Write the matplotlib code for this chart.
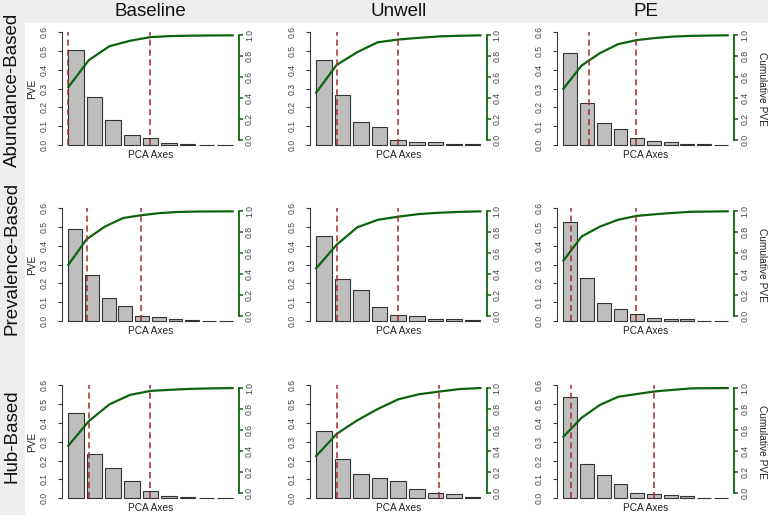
import numpy as np
import matplotlib
matplotlib.use("Agg")
import matplotlib.pyplot as plt
from matplotlib.patches import Rectangle
from matplotlib import transforms

plt.rcParams['font.family'] = ['Liberation Sans', 'DejaVu Sans']

# ---------------- data ----------------
row_labels = ["Abundance-Based", "Prevalence-Based", "Hub-Based"]
col_labels = ["Baseline", "Unwell", "PE"]

pve_abundance_baseline = [0.505, 0.258, 0.133, 0.052, 0.035, 0.010, 0.004, 0.002, 0.001]
pve_abundance_unwell = [0.452, 0.265, 0.122, 0.095, 0.026, 0.016, 0.014, 0.006, 0.004]
pve_abundance_pe = [0.490, 0.222, 0.118, 0.086, 0.038, 0.020, 0.014, 0.007, 0.003, 0.002]

pve_prevalence_baseline = [0.488, 0.245, 0.121, 0.082, 0.027, 0.020, 0.011, 0.004, 0.001, 0.001]
pve_prevalence_unwell = [0.455, 0.226, 0.166, 0.072, 0.030, 0.025, 0.013, 0.008, 0.005]
pve_prevalence_pe = [0.529, 0.231, 0.094, 0.066, 0.036, 0.016, 0.013, 0.011, 0.002, 0.002]

pve_hub_baseline = [0.452, 0.234, 0.159, 0.090, 0.038, 0.011, 0.009, 0.004, 0.003]
pve_hub_unwell = [0.354, 0.210, 0.129, 0.108, 0.092, 0.048, 0.026, 0.024, 0.009]
pve_hub_pe = [0.538, 0.180, 0.122, 0.077, 0.026, 0.025, 0.015, 0.014, 0.002, 0.001]

# cut-off markers (in PCA axis index units)
cuts_abundance_baseline = [1.0, 5.0]
cuts_abundance_unwell = [2.0, 5.0]
cuts_abundance_pe = [2.4, 5.0]
cuts_prevalence_baseline = [2.0, 5.0]
cuts_prevalence_unwell = [2.0, 5.0]
cuts_prevalence_pe = [1.42, 5.0]
cuts_hub_baseline = [2.0, 5.0]
cuts_hub_unwell = [2.0, 7.0]
cuts_hub_pe = [1.42, 5.96]

pve_grid = [
    [pve_abundance_baseline, pve_abundance_unwell, pve_abundance_pe],
    [pve_prevalence_baseline, pve_prevalence_unwell, pve_prevalence_pe],
    [pve_hub_baseline, pve_hub_unwell, pve_hub_pe],
]
cut_grid = [
    [cuts_abundance_baseline, cuts_abundance_unwell, cuts_abundance_pe],
    [cuts_prevalence_baseline, cuts_prevalence_unwell, cuts_prevalence_pe],
    [cuts_hub_baseline, cuts_hub_unwell, cuts_hub_pe],
]
pve_ticks = [0.0, 0.1, 0.2, 0.3, 0.4, 0.5, 0.6]
cum_ticks = [0.0, 0.2, 0.4, 0.6, 0.8, 1.0]

# ---------------- layout ----------------
W, H = 778, 525
fig = plt.figure(figsize=(W / 100, H / 100), dpi=100)
fig.patch.set_facecolor('white')

band = '#eeeeee'
fig.add_artist(Rectangle((0, 1 - 515 / H), 25 / W, 515 / H, transform=fig.transFigure,
                         facecolor=band, edgecolor='none', zorder=0))
fig.add_artist(Rectangle((25 / W, 1 - 23 / H), (768 - 25) / W, 23 / H, transform=fig.transFigure,
                         facecolor=band, edgecolor='none', zorder=0))

col_left = [61.7, 309.5, 556.8]
col_w = 177.5
row_y = [(27.8, 149.5), (203.8, 325.5), (380.5, 502.8)]
row_label_y = [90, 258, 436]

for c, name in enumerate(col_labels):
    fig.text((col_left[c] + col_w / 2) / W, 1 - 12 / H, name, ha='center', va='center',
             fontsize=13.5, color='#111111')
for r, name in enumerate(row_labels):
    fig.text(12.5 / W, 1 - row_label_y[r] / H, name, rotation=90, ha='center', va='center',
             fontsize=13.5, color='#111111')

green = '#0b640b'
red = '#a52a2a'
tickcol = '#3a3a3a'
labcol = '#444444'

for r in range(3):
    for c in range(3):
        vals = np.array(pve_grid[r][c])
        n = len(vals)
        y0, y1 = row_y[r]
        rect = [col_left[c] / W, 1 - y1 / H, col_w / W, (y1 - y0) / H]

        ax = fig.add_axes(rect)
        ax.patch.set_alpha(0)
        pos = 0.7 + 1.2 * np.arange(n)
        ax.bar(pos, vals, width=1.0, color='#bebebe', edgecolor='#333333', linewidth=0.8, zorder=2)
        span = 1.2 * n - 0.2
        ax.set_xlim(0.2 - 0.04 * span, 1.2 * n + 0.04 * span)
        ax.set_ylim(-0.024, 0.624)
        for s in ['top', 'right', 'bottom']:
            ax.spines[s].set_visible(False)
        ax.spines['left'].set_bounds(0, 0.6)
        ax.spines['left'].set_color(tickcol)
        ax.spines['left'].set_linewidth(0.8)
        ax.set_xticks([])
        ax.set_yticks(pve_ticks)
        ax.set_yticklabels([f'{v:.1f}' for v in pve_ticks])
        ax.tick_params(axis='y', length=3, width=0.8, pad=6.5, labelsize=6.2,
                       color=tickcol, labelcolor=labcol)
        for lbl in ax.get_yticklabels():
            lbl.set_rotation(90)
            lbl.set_va('center')
        ax.set_xlabel('PCA Axes', fontsize=7.3, labelpad=0.5, color='#222222')
        if c == 0:
            ax.set_ylabel('PVE', fontsize=7.3, labelpad=2, color='#222222')

        ax2 = fig.add_axes(rect)
        ax2.patch.set_visible(False)
        xs = np.arange(1, n + 1)
        ax2.plot(xs, np.cumsum(vals), color=green, lw=1.6, zorder=3)
        ax2.set_xlim(1 - 0.04 * (n - 1), n + 0.04 * (n - 1))
        ax2.set_ylim(-0.09, 1.072)
        for s in ['top', 'left', 'bottom']:
            ax2.spines[s].set_visible(False)
        ax2.spines['right'].set_bounds(0, 1)
        ax2.spines['right'].set_color(green)
        ax2.spines['right'].set_linewidth(1.3)
        ax2.set_xticks([])
        ax2.yaxis.tick_right()
        ax2.set_yticks(cum_ticks)
        ax2.set_yticklabels([f'{v:.1f}' for v in cum_ticks])
        ax2.tick_params(axis='y', length=3, width=1.1, pad=1.2, labelsize=6.2,
                        color=green, labelcolor=labcol)
        for lbl in ax2.get_yticklabels():
            lbl.set_rotation(90)
            lbl.set_va('center')

        trans = transforms.blended_transform_factory(ax2.transData, ax.transData)
        for p in cut_grid[r][c]:
            ax2.plot([p, p], [0, 0.6], transform=trans, color=red, lw=1.1,
                     dashes=(4, 2.5), zorder=4)

        if c == 2:
            fig.text(762 / W, 1 - ((y0 + y1) / 2) / H, 'Cumulative PVE', rotation=-90,
                     ha='center', va='center', fontsize=7.3, color='#222222')

fig.savefig('out.png', dpi=100)
